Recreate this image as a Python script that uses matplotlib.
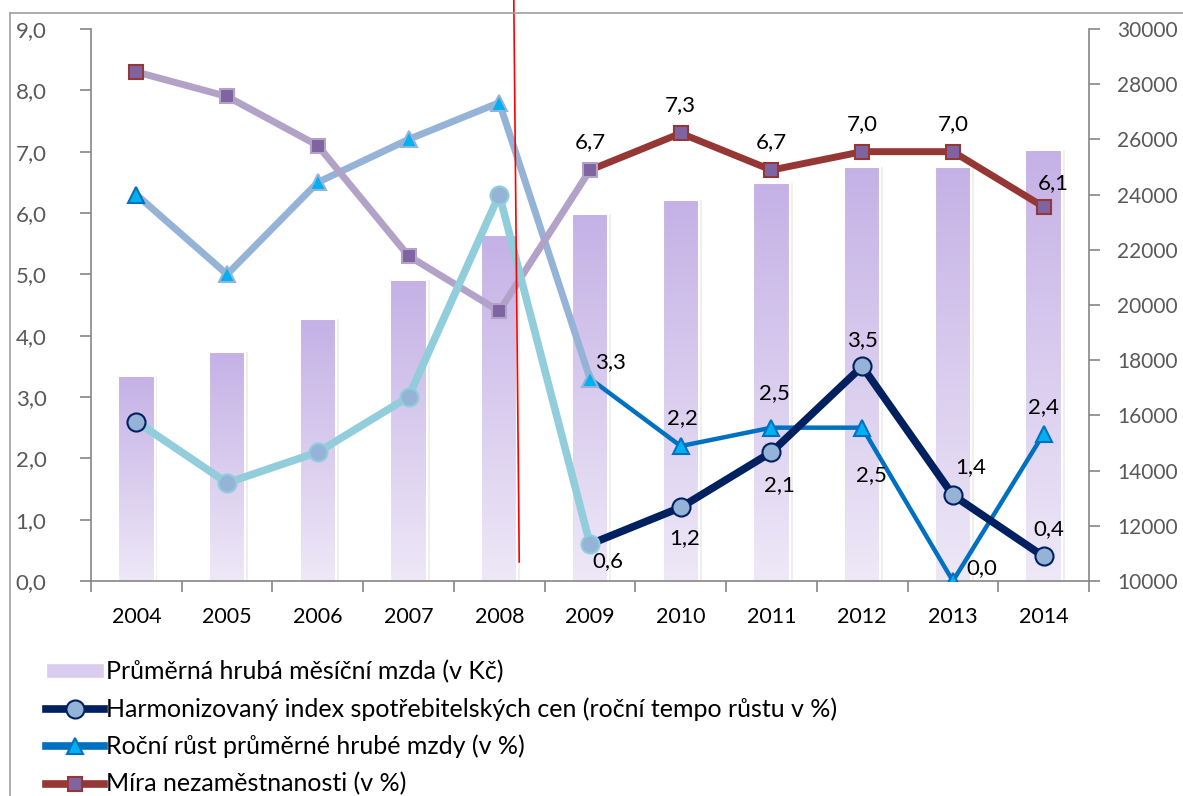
import numpy as np
import matplotlib
matplotlib.use("Agg")
from matplotlib import pyplot as plt
from matplotlib.lines import Line2D
from matplotlib.patches import Patch
from matplotlib.ticker import FuncFormatter, FixedLocator

plt.rcParams['font.family'] = ['Lato', 'DejaVu Sans']

# data
years = ['2004', '2005', '2006', '2007', '2008', '2009', '2010', '2011', '2012', '2013', '2014']
mzda = [17430, 18300, 19490, 20900, 22540, 23300, 23800, 24420, 25000, 25000, 25620]
hicp = [2.6, 1.6, 2.1, 3.0, 6.3, 0.6, 1.2, 2.1, 3.5, 1.4, 0.4]
rust_mzdy = [6.3, 5.0, 6.5, 7.2, 7.8, 3.3, 2.2, 2.5, 2.5, 0.0, 2.4]
nezam = [8.3, 7.9, 7.1, 5.3, 4.4, 6.7, 7.3, 6.7, 7.0, 7.0, 6.1]

legend_labels = ['Průměrná hrubá měsíční mzda (v Kč)',
                 'Harmonizovaný index spotřebitelských cen (roční tempo růstu v %)',
                 'Roční růst průměrné hrubé mzdy (v %)',
                 'Míra nezaměstnanosti (v %)']

# barvy
NAVY, NAVY_FADE = '#002060', '#92CDDC'
BLUE, BLUE_FADE = '#0070C0', '#95B3D7'
RED, RED_FADE = '#953735', '#B3A2C7'
GRID = '#868686'
TXT = '#595959'
SPLIT = 5  # od roku 2009 plne barvy

# cervena svisla cara (krize 2008)
red_x = (4.16, 4.22)
red_y = (9.5, 0.31)

x = np.arange(len(years))
comma = FuncFormatter(lambda v, p: ('%.1f' % v).replace('.', ','))

fig = plt.figure(figsize=(11.83, 7.96), dpi=100)
ax = fig.add_axes([91/1183, 1-581/796, (1089-91)/1183, (581-29)/796])
axr = ax.twinx()
ax.set_zorder(axr.get_zorder() + 1)
ax.patch.set_visible(False)

# sloupce s prechodem barvy
bars = axr.bar(x, mzda, width=0.4, facecolor='none', edgecolor='white', linewidth=1.5, zorder=3)
grad = np.linspace(0, 1, 256).reshape(-1, 1)
cmap = matplotlib.colors.LinearSegmentedColormap.from_list('g', ['#C5B1E6', '#EEE8F7'])
for b in bars:
    bx, bw = b.get_x(), b.get_width()
    # jemny stin
    axr.bar(bx + bw/2 + 0.012, b.get_height(), width=bw + 0.04, color='#EFEFEF', zorder=1)
    im = axr.imshow(grad, cmap=cmap, aspect='auto', extent=[bx, bx + bw, 10000, b.get_height()],
                    zorder=2, interpolation='bilinear')
    im.set_clip_path(b)
axr.set_xlim(-0.5, 10.5)
axr.set_ylim(10000, 30000)
axr.set_yticks(range(10000, 30001, 2000))
axr.tick_params(axis='y', colors=GRID, labelcolor=TXT, labelsize=15, length=8, width=1.2, pad=12)
for s in ['top', 'left', 'bottom']:
    axr.spines[s].set_visible(False)
axr.spines['right'].set_color(GRID)
axr.spines['right'].set_linewidth(1.2)


def series(vals, c_fade, c_full, lw, marker, ms, mfc, lw_fade=None):
    ax.plot(x[:SPLIT+1], vals[:SPLIT+1], color=c_fade, lw=lw_fade or lw, solid_capstyle='round', zorder=4)
    ax.plot(x[SPLIT:], vals[SPLIT:], color=c_full, lw=lw, solid_capstyle='round', zorder=5)
    edges = [c_full] + [c_fade] * SPLIT + [c_full] * (len(vals) - SPLIT - 1)
    for xi, v, ec in zip(x, vals, edges):
        ax.plot(xi, v, marker=marker, ms=ms, mfc=mfc, mec=ec, mew=1.5, zorder=6)


series(rust_mzdy, BLUE_FADE, BLUE, 3.2, '^', 11, '#00B0F0', lw_fade=5)
series(nezam, RED_FADE, RED, 5, 's', 10, '#8064A2')
series(hicp, NAVY_FADE, NAVY, 5.5, 'o', 13, '#95B3D7')

# popisky hodnot (jen 2009-2014)
fs = 16
lab = lambda v: ('%.1f' % v).replace('.', ',')
hicp_off = [(13, -12), (3, -22), (6, -24), (0, 19), (13, 20), (4, 20)]
rust_off = [(15, 12), (1, 20), (2, 25), (7, -34), (21, 9), (0, 19)]
nezam_off = [(0, 20), (0, 20), (0, 20), (0, 20), (0, 20), (7, 17)]
for i, xi in enumerate(x[SPLIT:]):
    j = SPLIT + i
    for vals, off in ((hicp, hicp_off), (rust_mzdy, rust_off), (nezam, nezam_off)):
        ax.annotate(lab(vals[j]), (xi, vals[j]), xytext=off[i], textcoords='offset points',
                    ha='center', va='center', fontsize=fs, color='black', zorder=7)

ax.plot(red_x, red_y, color='red', lw=1.2, clip_on=False, zorder=8)

ax.set_xlim(-0.5, 10.5)
ax.set_ylim(0, 9)
ax.set_yticks(np.arange(0, 9.01, 1))
ax.yaxis.set_major_formatter(comma)
ax.tick_params(axis='y', colors=GRID, labelcolor=TXT, labelsize=16, length=8, width=1.2, pad=24)
ax.set_xticks(x)
ax.set_xticklabels(years)
ax.xaxis.set_minor_locator(FixedLocator(np.arange(-0.5, 10.6, 1)))
ax.tick_params(axis='x', which='major', length=0, labelsize=15.5, labelcolor='black', pad=19)
ax.tick_params(axis='x', which='minor', length=8, width=1.2, color=GRID)
for s in ['top', 'right']:
    ax.spines[s].set_visible(False)
for s in ['left', 'bottom']:
    ax.spines[s].set_color(GRID)
    ax.spines[s].set_linewidth(1.2)

# legenda
handles = [Patch(facecolor='#D9CCEE', edgecolor='white'),
           Line2D([], [], color=NAVY, lw=5.5, marker='o', ms=13, mfc='#95B3D7', mec=NAVY, mew=1.5),
           Line2D([], [], color=BLUE, lw=5.5, marker='^', ms=11, mfc='#00B0F0', mec=BLUE, mew=1.5),
           Line2D([], [], color=RED, lw=5.5, marker='s', ms=10, mfc='#8064A2', mec=RED, mew=1.5)]
fig.legend(handles, legend_labels, loc='upper left', bbox_to_anchor=(46/1183, 1-660/796),
           frameon=False, fontsize=18, handlelength=2.3, handletextpad=0.08, labelspacing=0.56,
           handleheight=0.5, borderpad=0, borderaxespad=0)

# ramecek kolem grafu
fig.add_artist(Line2D([10/1183, 10/1183], [0, 1-13/796], color='#A0A0A0', lw=1.2))
fig.add_artist(Line2D([10/1183, 1], [1-13/796, 1-13/796], color='#A0A0A0', lw=1.2))

fig.savefig('out.png', dpi=100)
